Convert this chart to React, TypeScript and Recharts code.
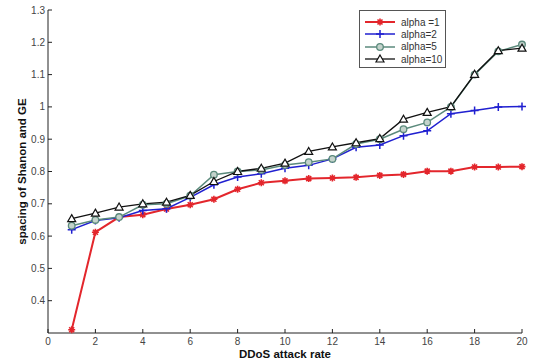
import { LineChart, Line, XAxis, YAxis } from 'recharts'

const rate = [1, 2, 3, 4, 5, 6, 7, 8, 9, 10, 11, 12, 13, 14, 15, 16, 17, 18, 19, 20]
const alpha1 = [0.31, 0.612, 0.659, 0.666, 0.684, 0.697, 0.714, 0.745, 0.765, 0.771, 0.778, 0.78, 0.782, 0.788, 0.791, 0.801, 0.801, 0.814, 0.814, 0.815]
const alpha2 = [0.62, 0.648, 0.657, 0.679, 0.685, 0.72, 0.759, 0.783, 0.793, 0.81, 0.819, 0.839, 0.875, 0.882, 0.911, 0.926, 0.979, 0.989, 1.0, 1.001]
const alpha5 = [0.632, 0.65, 0.659, 0.697, 0.7, 0.725, 0.79, 0.8, 0.805, 0.82, 0.829, 0.839, 0.885, 0.9, 0.931, 0.952, 1.0, 1.1, 1.172, 1.193]
const alpha10 = [0.654, 0.671, 0.69, 0.7, 0.705, 0.726, 0.769, 0.8, 0.81, 0.826, 0.862, 0.876, 0.889, 0.902, 0.962, 0.983, 1.001, 1.101, 1.174, 1.182]
const xTicks = [0, 2, 4, 6, 8, 10, 12, 14, 16, 18, 20]
const yTicks = [0.4, 0.5, 0.6, 0.7, 0.8, 0.9, 1.0, 1.1, 1.2, 1.3]

const data = rate.map((r, i) => ({ rate: r, a1: alpha1[i], a2: alpha2[i], a5: alpha5[i], a10: alpha10[i] }))

const RED = '#e3262c'
const BLUE = '#2020d0'
const TEAL = '#5b8a7c'
const BLACK = '#111'
const FONT = '"Liberation Sans", Arial, sans-serif'

function Star(cx: number, cy: number, key?: any) {
  const s = 3.5
  return (
    <g key={key}>
      <path d={`M${cx - s},${cy}L${cx + s},${cy}M${cx},${cy - s}L${cx},${cy + s}M${cx - 2.5},${cy - 2.5}L${cx + 2.5},${cy + 2.5}M${cx - 2.5},${cy + 2.5}L${cx + 2.5},${cy - 2.5}`} stroke={RED} strokeWidth={1.6} />
      <circle cx={cx} cy={cy} r={1.8} fill={RED} />
    </g>
  )
}

function Plus(cx: number, cy: number, key?: any) {
  const s = 4
  return <path key={key} d={`M${cx - s},${cy}L${cx + s},${cy}M${cx},${cy - s}L${cx},${cy + s}`} stroke={BLUE} strokeWidth={1.5} />
}

function Circ(cx: number, cy: number, key?: any) {
  return <circle key={key} cx={cx} cy={cy} r={3.3} fill="#c4d3cc" stroke={TEAL} strokeWidth={1.3} />
}

function Tri(cx: number, cy: number, key?: any) {
  const s = 4
  return <path key={key} d={`M${cx},${cy - s}L${cx + s},${cy + s * 0.75}L${cx - s},${cy + s * 0.75}Z`} fill="#fff" stroke={BLACK} strokeWidth={1.2} />
}

const series = [
  { key: 'a1', name: 'alpha =1', color: RED, width: 2, marker: Star },
  { key: 'a2', name: 'alpha=2', color: BLUE, width: 1.5, marker: Plus },
  { key: 'a5', name: 'alpha=5', color: TEAL, width: 1.5, marker: Circ },
  { key: 'a10', name: 'alpha=10', color: BLACK, width: 1.3, marker: Tri },
]

// legend box sits in the upper right, like the MATLAB one
function LegendBox() {
  return (
    <div style={{ position: 'absolute', left: 359, top: 10, border: '1px solid #555', background: '#fff', width: 85, padding: '5px 0 2px 0', fontFamily: FONT, fontSize: 10, color: '#333' }}>
      {series.map((s) => (
        <div key={s.key} style={{ display: 'flex', alignItems: 'center', height: 12.3 }}>
          <svg width={38} height={12} style={{ marginLeft: 2 }}>
            <line x1={3} y1={6} x2={33} y2={6} stroke={s.color} strokeWidth={s.width} />
            {s.marker(18, 6)}
          </svg>
          <span style={{ marginLeft: 1 }}>{s.name}</span>
        </div>
      ))}
    </div>
  )
}

const fmt = (v: number) => String(+v.toFixed(1))

export default function App() {
  return (
    <div style={{ position: 'absolute', left: 0, top: 0, width: 534, height: 364, background: '#fff' }}>
      <LineChart width={534} height={364} data={data} margin={{ top: 10, right: 12, bottom: 0, left: 0 }}>
        <XAxis
          dataKey="rate"
          type="number"
          domain={[0, 20]}
          ticks={xTicks}
          height={31}
          tickSize={-4}
          tickMargin={9}
          stroke="#222"
          tick={{ fill: '#444', fontSize: 10, fontFamily: FONT }}
          label={{ value: 'DDoS attack rate', position: 'insideBottom', offset: 6, fill: '#111', fontSize: 11.5, fontWeight: 'bold', fontFamily: FONT }}
        />
        <YAxis
          type="number"
          domain={[0.3, 1.3]}
          ticks={yTicks}
          width={48}
          tickSize={-4}
          tickMargin={7}
          tickFormatter={fmt}
          stroke="#222"
          tick={{ fill: '#444', fontSize: 10, fontFamily: FONT }}
          label={{
            content: (p: any) => {
              const vb = p.viewBox
              const x = vb.x + 22
              const y = vb.y + vb.height / 2
              return (
                <text x={x} y={y} transform={`rotate(-90, ${x}, ${y})`} textAnchor="middle" dominantBaseline="central" fill="#111" fontSize={11.5} fontWeight="bold" fontFamily={FONT}>
                  spacing of Shanon and GE
                </text>
              )
            },
          }}
        />
        {series.map((s) => (
          <Line
            key={s.key}
            dataKey={s.key}
            name={s.name}
            stroke={s.color}
            strokeWidth={s.width}
            type="linear"
            isAnimationActive={false}
            dot={(p: any) => s.marker(p.cx, p.cy, p.index)}
          />
        ))}
      </LineChart>
      <LegendBox />
    </div>
  )
}
